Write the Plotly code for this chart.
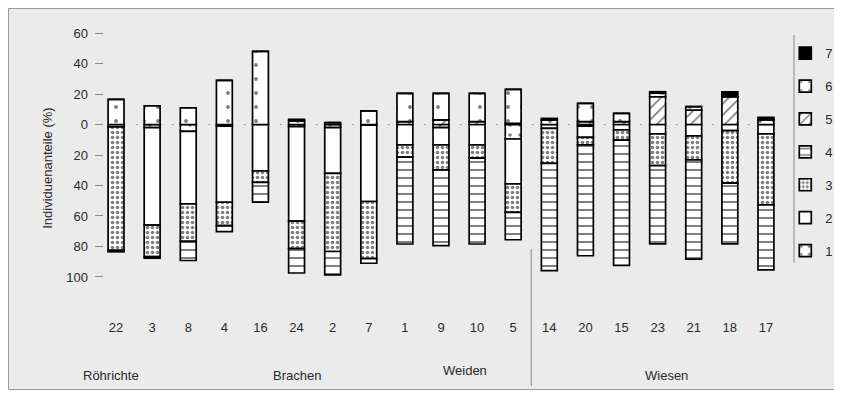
import plotly.graph_objects as go

# bar labels (plots) in display order
plots = ["22", "3", "8", "4", "16", "24", "2", "7", "1", "9", "10", "5",
         "14", "20", "15", "23", "21", "18", "17"]

# category shares (%) per plot; 1-4 drawn below zero, 5-7 above zero
cat1 = [0, 2, 4.5, 1, 0, 1.4, 2, 0.5, 0, 2, 0, 9.5, 0, 1, 0, 0, 0, 0, 0]
cat2 = [1.5, 64, 47.5, 50, 30.5, 62, 30, 50, 13.4, 11.4, 13.4, 29.5, 2.5, 7.4, 3.6, 6.2, 7.5, 4, 6.2]
cat3 = [81, 20.7, 24.7, 15.3, 7.4, 18, 51.3, 37.5, 8, 16.4, 8.7, 18.7, 23, 5, 6.6, 20.8, 15.7, 34.5, 46.5]
cat4 = [1, 1, 12.5, 4, 13, 16, 15.3, 3, 57, 49.6, 56.3, 17.9, 70.3, 72.7, 82.2, 51.3, 65.1, 39.8, 42.6]
cat5 = [0, 0, 0, 0, 0, 0, 0, 0, 1.9, 3, 1.9, 0.8, 0, 1.9, 1.9, 18.2, 9.5, 18.2, 0]
cat6 = [16.5, 12.3, 11, 29, 48, 2.4, 1.2, 9, 18.5, 17.4, 18.5, 22.2, 3, 12, 5.4, 2.3, 2.2, 0, 3]
cat7 = [0, 0, 0, 0, 0, 1, 0, 0, 0, 0, 0, 0, 1, 0, 0, 1, 0, 3.3, 1.7]

group_names = ["Röhrichte", "Brachen", "Weiden", "Wiesen"]
y_tickvals = [60, 40, 20, 0, -20, -40, -60, -80, -100]
y_ticktext = ["60", "40", "20", "0", "20", "40", "60", "80", "100"]

FONT = "Liberation Sans, Arial, sans-serif"
TXT = "#2a2a2a"
BG = "#ebebeb"

styles = {
    "1": dict(shape=".", size=10, solidity=0.1, fgcolor="black", bgcolor="white"),
    "2": dict(shape="", fgcolor="black", bgcolor="white"),
    "3": dict(shape=".", size=5, solidity=0.4, fgcolor="black", bgcolor="white"),
    "4": dict(shape="-", size=8, solidity=0.25, fgcolor="black", bgcolor="white"),
    "5": dict(shape="/", size=8, solidity=0.22, fgcolor="black", bgcolor="white"),
    "6": dict(shape=".", size=14, solidity=0.06, fgcolor="black", bgcolor="white"),
}

fig = go.Figure()
series = [("1", cat1, -1), ("2", cat2, -1), ("3", cat3, -1), ("4", cat4, -1),
          ("5", cat5, 1), ("6", cat6, 1), ("7", cat7, 1)]
for name, vals, sign in series:
    if name == "7":
        marker = dict(color="black", line=dict(color="black", width=1.7))
    else:
        marker = dict(color="white", pattern=styles[name], line=dict(color="black", width=1.7))
    fig.add_trace(go.Bar(
        x=plots, y=[sign * v for v in vals], name=name, legendgroup=name,
        legendrank=8 - int(name),
        marker=marker, width=0.44,
    ))

fig.update_layout(
    width=834, height=382,
    margin=dict(l=87, r=58, t=22, b=110, autoexpand=False),
    paper_bgcolor=BG, plot_bgcolor=BG,
    barmode="relative",
    font=dict(family=FONT, size=13, color=TXT),
    showlegend=True,
    legend=dict(xref="container", yref="container", x=0.932, xanchor="left",
                y=0.921, yanchor="top", maxheight=330,
                traceorder="grouped", tracegroupgap=13,
                bgcolor="rgba(0,0,0,0)", font=dict(size=13)),
    xaxis=dict(type="category", categoryorder="array", categoryarray=plots,
               range=[-0.583, 18.5], showline=False, showgrid=False, zeroline=False,
               ticks="", ticklabelstandoff=38, tickfont=dict(size=13)),
    xaxis2=dict(overlaying="x", type="linear", range=[-0.583, 18.5],
                anchor="free", position=0.638, side="bottom",
                tickvals=[i - 0.5 for i in range(len(plots) + 1)],
                ticks="outside", ticklen=8, tickcolor="#8a8a8a", tickwidth=1,
                showticklabels=False, showline=False, showgrid=False, zeroline=False),
    yaxis=dict(range=[-102, 62], tickvals=y_tickvals, ticktext=y_ticktext,
               ticks="inside", ticklen=8, tickcolor="#8a8a8a", tickwidth=1,
               showline=False, showgrid=False, zeroline=False,
               ticklabelstandoff=6, tickfont=dict(size=13)),
)

shapes = [
    # outer frame
    dict(type="rect", xref="paper", yref="paper", x0=-0.1255, x1=1.2, y0=-0.438, y1=1.086,
         line=dict(color="#9a9a9a", width=1), layer="below"),
    # dotted zero line
    dict(type="line", xref="x", yref="y", x0=-0.45, x1=18.2, y0=0, y1=0,
         line=dict(color="#9a9a9a", width=1, dash="2px,10px"), layer="below"),
    # separator before Wiesen
    dict(type="line", xref="x", yref="paper", x0=11.5, x1=11.5, y0=-0.424, y1=0.124,
         line=dict(color="#8a8a8a", width=1)),
    # legend side lines
    dict(type="line", xref="paper", yref="paper", x0=1.0145, x1=1.0145, y0=0.068, y1=0.98,
         line=dict(color="#8a8a8a", width=1)),
    dict(type="line", xref="paper", yref="paper", x0=1.0755, x1=1.0755, y0=0.068, y1=0.98,
         line=dict(color="#8a8a8a", width=1)),
]
fig.update_layout(shapes=shapes)

ann = [dict(text="Individuenanteile (%)", textangle=-90, x=-0.070, y=0.448,
            xref="paper", yref="paper", xanchor="center", yanchor="middle",
            showarrow=False, font=dict(size=13, color=TXT))]
group_pos = [(0.023, -0.38), (0.293, -0.38), (0.537, -0.364), (0.829, -0.38)]
for g, (gx, gy) in zip(group_names, group_pos):
    ann.append(dict(text=g, x=gx, y=gy, xref="paper", yref="paper",
                    xanchor="center", yanchor="middle", showarrow=False,
                    font=dict(size=13, color=TXT)))
fig.update_layout(annotations=ann)

fig.write_html("out.html")
